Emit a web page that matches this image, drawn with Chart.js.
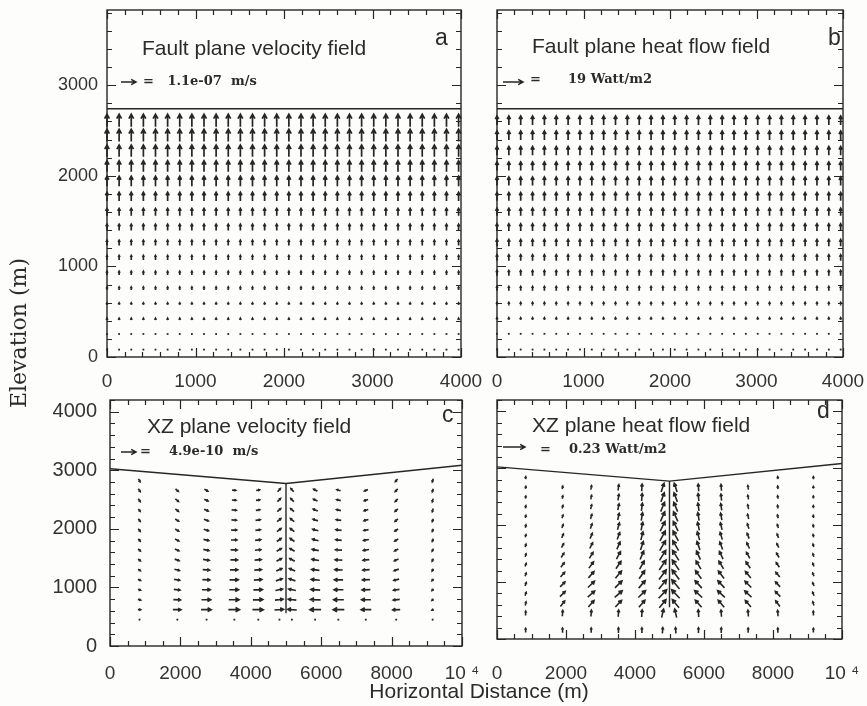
<!DOCTYPE html>
<html>
<head>
<meta charset="utf-8">
<script src="https://cdn.jsdelivr.net/npm/chart.js@4.4.1/dist/chart.umd.min.js"></script>
<style>
  html, body { margin: 0; padding: 0; background: #fdfdfc; }
  #page { position: relative; width: 867px; height: 706px; overflow: hidden; }
  #page canvas { position: absolute; }
  .txt { position: absolute; white-space: pre; color: #2b2b2b; line-height: 1; }
  .title { font-family: "Liberation Sans", Arial, sans-serif; font-size: 21px; }
  .key { font-family: "DejaVu Serif", serif; font-weight: bold; font-size: 13px; }
  .tag { font-family: "Liberation Sans", Arial, sans-serif; font-size: 23px; }
</style>
</head>
<body>
<div id="page">
  <canvas id="panelA" width="500" height="400" style="left:0;top:0"></canvas>
  <canvas id="panelB" width="397" height="400" style="left:470px;top:0"></canvas>
  <canvas id="panelC" width="500" height="316" style="left:0;top:390px"></canvas>
  <canvas id="panelD" width="397" height="316" style="left:470px;top:390px"></canvas>
</div>
<script>
// ---- fault plane (panels a, b) ----
const faultCols = [0, 137, 274, 411, 548, 685, 822, 959, 1096, 1233, 1370, 1507, 1644, 1781, 1918,
  2055, 2192, 2329, 2466, 2603, 2740, 2877, 3014, 3151, 3288, 3425, 3562, 3699, 3836, 3973];
const faultRows = [80, 250, 420, 585, 755, 925, 1095, 1260, 1430, 1600, 1770, 1940, 2105, 2275, 2445, 2610];
// upward velocity, 1e-7 m/s, one value per row (bottom to top)
const velocityA = [0.02, 0.05, 0.10, 0.16, 0.22, 0.27, 0.32, 0.38, 0.45, 0.53, 0.63, 0.72, 0.80, 0.86, 0.90, 0.93];
// upward heat flow, W/m2, one value per row (bottom to top)
const heatB = [0.4, 1.0, 2.0, 3.0, 4.0, 5.0, 5.7, 6.3, 6.8, 7.2, 7.6, 7.9, 8.1, 8.3, 8.5, 8.6];
const faultSurface = [[0, 2740], [4000, 2740]];
const faultXTicks = [0, 1000, 2000, 3000, 4000];
const faultYTicks = [0, 1000, 2000, 3000];

// ---- XZ plane (panels c, d) ----
const xzCols = [830, 1900, 2730, 3520, 4200, 4800, 5180, 5840, 6500, 7280, 8140, 9170];
const xzRows = [2830, 2660, 2490, 2320, 2150, 1980, 1810, 1640, 1470, 1300, 1130, 960, 790, 620, 450, 150];
const xzSurface = [[0, 3025], [5000, 2775], [10000, 3085]];
const xzFault = [[5000, 2775], [5000, 560]];
const xzXTicks = [0, 2000, 4000, 6000, 8000, 10000];
const xzYTicks = [0, 1000, 2000, 3000, 4000];

// velocity [u, v], 1e-10 m/s, rows top to bottom, null = no vector
const velXZ = [
  [[0.5,-0.9], null, null, null, null, null, null, null, null, null, [-0.7,-0.8], [-0.3,-1.0]],
  [[0.6,-0.9],[0.9,-0.8],[1.1,-0.6],[1.2,-0.1],[1.1,0.2],[0.9,1.0],[-0.9,1.0],[-1.2,0.6],[-1.2,0.3],[-1.1,-0.4],[-0.8,-0.8],[-0.3,-1.0]],
  [[0.6,-0.9],[1.0,-0.8],[1.2,-0.6],[1.3,-0.1],[1.2,0.2],[1.0,1.0],[-1.0,1.0],[-1.3,0.6],[-1.3,0.3],[-1.2,-0.4],[-0.8,-0.8],[-0.3,-1.0]],
  [[0.6,-0.8],[1.0,-0.8],[1.3,-0.6],[1.5,-0.1],[1.3,0.2],[1.1,1.0],[-1.1,1.0],[-1.5,0.6],[-1.4,0.3],[-1.3,-0.4],[-0.9,-0.8],[-0.3,-1.0]],
  [[0.6,-0.8],[1.1,-0.7],[1.4,-0.5],[1.6,-0.1],[1.5,0.2],[1.2,1.0],[-1.2,1.0],[-1.6,0.5],[-1.6,0.2],[-1.4,-0.4],[-0.9,-0.8],[-0.3,-0.9]],
  [[0.6,-0.8],[1.1,-0.7],[1.5,-0.5],[1.8,0.0],[1.6,0.2],[1.3,1.0],[-1.3,1.0],[-1.8,0.5],[-1.8,0.2],[-1.5,-0.3],[-1.0,-0.7],[-0.3,-0.9]],
  [[0.6,-0.7],[1.2,-0.6],[1.7,-0.4],[1.9,0.0],[1.8,0.2],[1.4,1.0],[-1.4,1.0],[-1.9,0.5],[-1.9,0.2],[-1.7,-0.3],[-1.1,-0.7],[-0.3,-0.9]],
  [[0.7,-0.7],[1.3,-0.6],[1.8,-0.4],[2.1,0.0],[1.9,0.2],[1.5,0.9],[-1.5,0.9],[-2.1,0.4],[-2.1,0.1],[-1.8,-0.3],[-1.2,-0.6],[-0.4,-0.8]],
  [[0.7,-0.6],[1.4,-0.5],[2.0,-0.3],[2.3,0.0],[2.1,0.2],[1.6,0.9],[-1.6,0.9],[-2.3,0.4],[-2.3,0.1],[-2.0,-0.2],[-1.3,-0.6],[-0.4,-0.8]],
  [[0.7,-0.5],[1.6,-0.4],[2.2,-0.2],[2.5,0.0],[2.3,0.2],[1.8,0.8],[-1.8,0.8],[-2.5,0.3],[-2.5,0.1],[-2.2,-0.2],[-1.5,-0.5],[-0.4,-0.7]],
  [[0.8,-0.4],[1.8,-0.3],[2.4,-0.1],[2.8,0.0],[2.6,0.2],[2.0,0.7],[-2.0,0.7],[-2.8,0.3],[-2.8,0.0],[-2.4,-0.1],[-1.7,-0.4],[-0.5,-0.6]],
  [[0.8,-0.3],[2.0,-0.2],[2.7,0.0],[3.0,0.0],[2.9,0.1],[2.3,0.5],[-2.3,0.5],[-3.0,0.2],[-3.0,0.0],[-2.7,-0.1],[-1.9,-0.3],[-0.5,-0.5]],
  [[0.9,-0.2],[2.3,-0.1],[3.0,0.0],[3.3,0.0],[3.2,0.1],[2.6,0.3],[-2.6,0.3],[-3.3,0.1],[-3.3,0.0],[-3.0,0.0],[-2.1,-0.2],[-0.5,-0.4]],
  [[0.9,0.0],[2.6,0.0],[3.3,0.0],[3.6,0.0],[3.5,0.0],[2.9,0.2],[-2.9,0.2],[-3.6,0.0],[-3.6,0.0],[-3.3,0.0],[-2.4,-0.1],[-0.5,-0.3]],
  [[0.2,0.0],[0.3,0.0],[0.3,0.0],[0.3,0.0],[0.3,0.0],[0.3,0.0],[-0.3,0.0],[-0.3,0.0],[-0.3,0.0],[-0.3,0.0],[-0.2,0.0],[-0.1,0.0]],
  [null, null, null, null, null, null, null, null, null, null, null, null]
];

// heat flow [u, v], 0.01 W/m2, rows top to bottom
const heatXZ = [
  [[0.3,2.5], null, null, null, null, null, null, null, null, null, [-0.3,2.5], [0.0,2.5]],
  [[0.4,2.5],[0.5,3.0],[0.8,4.0],[0.8,6.0],[0.5,7.5],[3.0,9.0],[-3.0,9.0],[-0.5,7.5],[-0.5,6.5],[-0.5,4.0],[-0.3,3.0],[0.0,2.5]],
  [[0.4,2.6],[0.6,3.0],[0.9,4.2],[1.0,6.3],[0.7,7.8],[3.5,9.5],[-3.5,9.5],[-0.8,7.8],[-0.7,6.8],[-0.7,4.2],[-0.4,3.0],[-0.1,2.6]],
  [[0.5,2.7],[0.8,3.2],[1.1,4.5],[1.3,6.6],[1.0,8.0],[4.0,9.8],[-4.0,9.8],[-1.1,8.0],[-1.0,7.0],[-0.9,4.5],[-0.6,3.2],[-0.2,2.7]],
  [[0.5,2.8],[1.0,3.4],[1.4,4.8],[1.6,6.9],[1.3,8.2],[4.5,10.0],[-4.5,10.0],[-1.4,8.2],[-1.3,7.2],[-1.2,4.8],[-0.8,3.4],[-0.3,2.8]],
  [[0.6,2.9],[1.3,3.6],[1.8,5.1],[2.0,7.2],[1.7,8.4],[5.0,10.2],[-5.0,10.2],[-1.8,8.4],[-1.7,7.4],[-1.6,5.1],[-1.1,3.6],[-0.4,2.9]],
  [[0.7,3.0],[1.7,3.9],[2.3,5.5],[2.6,7.4],[2.2,8.6],[5.5,10.4],[-5.5,10.4],[-2.4,8.6],[-2.2,7.6],[-2.1,5.5],[-1.5,3.9],[-0.5,3.0]],
  [[0.8,3.1],[2.2,4.2],[3.0,5.9],[3.3,7.6],[2.9,8.8],[6.0,10.5],[-6.0,10.5],[-3.1,8.8],[-2.9,7.8],[-2.7,5.9],[-2.0,4.2],[-0.7,3.1]],
  [[0.9,3.2],[2.8,4.5],[3.8,6.2],[4.2,7.8],[3.7,8.8],[6.5,10.5],[-6.5,10.5],[-4.0,8.8],[-3.8,8.0],[-3.5,6.3],[-2.6,4.5],[-0.9,3.2]],
  [[1.0,3.3],[3.5,4.8],[4.8,6.5],[5.2,7.8],[4.7,8.7],[7.0,10.3],[-7.0,10.3],[-5.0,8.7],[-4.8,8.0],[-4.5,6.6],[-3.3,4.8],[-1.1,3.3]],
  [[1.1,3.4],[4.3,5.0],[5.8,6.6],[6.3,7.6],[5.8,8.4],[7.5,10.0],[-7.5,10.0],[-6.1,8.4],[-5.9,7.8],[-5.6,6.7],[-4.1,5.0],[-1.3,3.4]],
  [[1.2,3.5],[5.0,5.2],[6.8,6.5],[7.3,7.2],[6.8,7.8],[8.0,9.5],[-8.0,9.5],[-7.1,7.8],[-6.9,7.4],[-6.6,6.6],[-4.8,5.2],[-1.5,3.5]],
  [[1.1,3.6],[5.4,5.4],[7.2,6.4],[7.8,6.8],[7.5,7.2],[8.3,8.8],[-8.3,8.8],[-7.8,7.2],[-7.5,7.0],[-7.0,6.4],[-5.2,5.4],[-1.5,3.6]],
  [[0.8,3.8],[4.5,5.8],[6.0,6.8],[6.5,7.0],[6.3,7.4],[7.0,8.5],[-7.0,8.5],[-6.6,7.4],[-6.3,7.2],[-5.9,6.8],[-4.4,5.8],[-1.1,3.8]],
  [[0.2,4.5],[0.5,6.0],[0.5,6.5],[0.5,7.0],[0.5,7.5],[2.0,9.0],[-2.0,9.0],[-0.5,7.5],[-0.5,7.0],[-0.5,6.5],[-0.4,6.0],[-0.2,4.5]],
  [[0.0,4.5],[0.0,5.0],[0.0,5.0],[0.0,5.5],[0.0,5.5],[0.5,6.0],[-0.5,6.0],[0.0,5.5],[0.0,5.5],[0.0,5.0],[0.0,5.0],[0.0,4.5]]
];

// reference arrows
const keyVelA = 1.1;   // 1e-7 m/s
const keyHeatB = 19;   // W/m2
const keyVelC = 4.9;   // 1e-10 m/s
const keyHeatD = 23;   // 0.01 W/m2

const panelTitles = ['Fault plane velocity field', 'Fault plane heat flow field',
  'XZ plane velocity field', 'XZ plane heat flow field'];
const panelTags = ['a', 'b', 'c', 'd'];

// ---- helpers ----
function columnVectors(cols, rows, rowVals) {
  const pts = [];
  rows.forEach((y, i) => cols.forEach(x => pts.push({ x: x, y: y, u: 0, v: rowVals[i] })));
  return pts;
}
function tableVectors(cols, rows, table) {
  const pts = [];
  rows.forEach((y, i) => cols.forEach((x, j) => {
    const c = table[i][j];
    if (c) pts.push({ x: x, y: y, u: c[0], v: c[1] });
  }));
  return pts;
}
const asPoints = arr => arr.map(p => ({ x: p[0], y: p[1] }));

const INK = '#262626';

function drawArrow(ctx, x0, y0, x1, y1) {
  const dx = x1 - x0, dy = y1 - y0, L = Math.hypot(dx, dy);
  if (L < 1.3) {
    ctx.fillRect(x1 - 0.9, y1 - 0.9, 1.8, 1.8);
    return;
  }
  const h = Math.min(5.5, Math.max(1.8, L * 0.4));
  const ang = Math.atan2(dy, dx), sp = 0.5;
  ctx.beginPath();
  ctx.moveTo(x0, y0);
  ctx.lineTo(x1, y1);
  ctx.moveTo(x1 - h * Math.cos(ang - sp), y1 - h * Math.sin(ang - sp));
  ctx.lineTo(x1, y1);
  ctx.lineTo(x1 - h * Math.cos(ang + sp), y1 - h * Math.sin(ang + sp));
  ctx.stroke();
}

// vectors centred on their grid node, scaled from the reference arrow
const quiverPlugin = {
  id: 'quiver',
  afterDatasetsDraw(chart, args, o) {
    const ctx = chart.ctx, area = chart.chartArea;
    const k = o.keyLen / o.keyValue;
    ctx.save();
    ctx.strokeStyle = INK;
    ctx.fillStyle = INK;
    ctx.lineWidth = o.width;
    chart.data.datasets.forEach((ds, di) => {
      if (!ds.quiver) return;
      const meta = chart.getDatasetMeta(di);
      meta.data.forEach((el, i) => {
        const p = ds.data[i];
        const dx = p.u * k, dy = -p.v * k;
        drawArrow(ctx, el.x - dx / 2, el.y - dy / 2, el.x + dx / 2, el.y + dy / 2);
      });
    });
    // reference arrow in the key
    ctx.lineWidth = 1.5;
    const kx = area.left + o.keyAt[0], ky = area.top + o.keyAt[1];
    drawArrow(ctx, kx, ky, kx + o.keyLen, ky);
    ctx.restore();
  }
};

// box with inward ticks on all four sides
const framePlugin = {
  id: 'frame',
  afterDraw(chart, args, o) {
    const { ctx, chartArea: a } = chart;
    const xs = chart.scales.x, ys = chart.scales.y;
    ctx.save();
    ctx.strokeStyle = INK;
    ctx.lineWidth = 1.4;
    ctx.strokeRect(a.left, a.top, a.width, a.height);
    ctx.lineWidth = 1.2;
    ctx.beginPath();
    for (let v = xs.min; v <= xs.max + 1e-6; v += o.xMinor) {
      const px = Math.round(xs.getPixelForValue(v)) + 0.5;
      const len = Math.abs(v / o.xMajor - Math.round(v / o.xMajor)) < 1e-6 ? 9 : 5;
      ctx.moveTo(px, a.bottom); ctx.lineTo(px, a.bottom - len);
      ctx.moveTo(px, a.top); ctx.lineTo(px, a.top + len);
    }
    for (let v = ys.min; v <= ys.max + 1e-6; v += o.yMinor) {
      const py = Math.round(ys.getPixelForValue(v)) + 0.5;
      const len = Math.abs(v / o.yMajor - Math.round(v / o.yMajor)) < 1e-6 ? 9 : 5;
      ctx.moveTo(a.left, py); ctx.lineTo(a.left + len, py);
      ctx.moveTo(a.right, py); ctx.lineTo(a.right - len, py);
    }
    ctx.stroke();
    ctx.restore();
  }
};

function makePanel(id, cfg) {
  const datasets = [
    {
      data: asPoints(cfg.surface), showLine: true, pointRadius: 0,
      borderColor: INK, borderWidth: 1.4, tension: 0
    },
    { data: cfg.vectors, quiver: true, pointRadius: 0 }
  ];
  if (cfg.fault) {
    datasets.push({
      data: asPoints(cfg.fault), showLine: true, pointRadius: 0,
      borderColor: INK, borderWidth: 1.4
    });
  }
  return new Chart(document.getElementById(id), {
    type: 'scatter',
    data: { datasets: datasets },
    options: {
      responsive: false,
      animation: false,
      events: [],
      layout: { autoPadding: false, padding: { top: cfg.pad[0], right: cfg.pad[1], bottom: 0, left: 0 } },
      plugins: {
        legend: { display: false },
        tooltip: { enabled: false },
        quiver: { keyValue: cfg.keyValue, keyLen: cfg.keyLen, keyAt: cfg.keyAt, width: cfg.arrowWidth },
        frame: cfg.ticks
      },
      scales: {
        x: {
          type: 'linear', min: 0, max: cfg.xMax,
          grid: { display: false }, border: { display: false },
          afterBuildTicks: s => { s.ticks = cfg.xTicks.map(v => ({ value: v })); },
          ticks: {
            autoSkip: false, maxRotation: 0,
            padding: cfg.xPad, color: '#333', font: { family: 'Liberation Sans', size: 19 },
            callback: v => (v === 10000 ? '10 \u2074' : String(v))
          },
          afterFit: s => { s.height = cfg.xHeight; s.paddingLeft = 0; s.paddingRight = 0; }
        },
        y: {
          type: 'linear', min: 0, max: cfg.yMax,
          grid: { display: false }, border: { display: false },
          afterBuildTicks: s => { s.ticks = cfg.yTicks.map(v => ({ value: v })); },
          ticks: {
            display: cfg.yLabels, autoSkip: false,
            padding: cfg.yPad, color: '#333', font: { family: 'Liberation Sans', size: cfg.yFont },
            callback: v => String(v)
          },
          afterFit: s => { s.width = cfg.yWidth; s.paddingTop = 0; s.paddingBottom = 0; }
        }
      }
    },
    plugins: [quiverPlugin, framePlugin]
  });
}

makePanel('panelA', {
  surface: faultSurface, vectors: columnVectors(faultCols, faultRows, velocityA),
  keyValue: keyVelA, keyLen: 15, keyAt: [14, 72], arrowWidth: 1.7,
  xMax: 4000, yMax: 3830, xTicks: faultXTicks, yTicks: faultYTicks, xPad: 5, xHeight: 43,
  yLabels: true, yPad: 1, yFont: 18, yWidth: 107, pad: [10, 39],
  ticks: { xMinor: 200, xMajor: 1000, yMinor: 200, yMajor: 1000 }
});
makePanel('panelB', {
  surface: faultSurface, vectors: columnVectors(faultCols, faultRows, heatB),
  keyValue: keyHeatB, keyLen: 20, keyAt: [6, 72], arrowWidth: 1.7,
  xMax: 4000, yMax: 3830, xTicks: faultXTicks, yTicks: faultYTicks, xPad: 5, xHeight: 43,
  yLabels: false, yPad: 1, yFont: 18, yWidth: 27, pad: [10, 24],
  ticks: { xMinor: 200, xMajor: 1000, yMinor: 200, yMajor: 1000 }
});
makePanel('panelC', {
  surface: xzSurface, fault: xzFault, vectors: tableVectors(xzCols, xzRows, velXZ),
  keyValue: keyVelC, keyLen: 15, keyAt: [11, 52], arrowWidth: 1.7,
  xMax: 10000, yMax: 4200, xTicks: xzXTicks, yTicks: xzYTicks, xPad: 8, xHeight: 60,
  yLabels: true, yPad: 5, yFont: 20, yWidth: 110, pad: [10, 38],
  ticks: { xMinor: 500, xMajor: 2000, yMinor: 200, yMajor: 1000 }
});
makePanel('panelD', {
  surface: xzSurface, fault: xzFault, vectors: tableVectors(xzCols, xzRows, heatXZ),
  keyValue: keyHeatD, keyLen: 22, keyAt: [6, 47], arrowWidth: 1.6,
  xMax: 10000, yMax: 4200, xTicks: xzXTicks, yTicks: xzYTicks, xPad: 15, xHeight: 67,
  yLabels: false, yPad: 1, yFont: 20, yWidth: 27, pad: [10, 25],
  ticks: { xMinor: 500, xMajor: 2000, yMinor: 200, yMajor: 1000 }
});

// ---- text overlays ----
const page = document.getElementById('page');
function addText(cls, text, left, top, extra) {
  const d = document.createElement('div');
  d.className = 'txt ' + cls;
  d.textContent = text;
  d.style.left = left + 'px';
  d.style.top = top + 'px';
  if (extra) Object.assign(d.style, extra);
  page.appendChild(d);
}
addText('title', panelTitles[0], 142, 37);
addText('title', panelTitles[1], 532, 35);
addText('title', panelTitles[2], 147, 415);
addText('title', panelTitles[3], 532, 414);
addText('tag', panelTags[0], 435, 26);
addText('tag', panelTags[1], 828, 26);
addText('tag', panelTags[2], 442, 403);
addText('tag', panelTags[3], 817, 399);
addText('key', '=   ' + keyVelA.toFixed(1) + 'e-07  m/s', 143, 74);
addText('key', '=      ' + keyHeatB + ' Watt/m2', 530, 72);
addText('key', '=    ' + keyVelC.toFixed(1) + 'e-10  m/s', 140, 444);
addText('key', '=    ' + (keyHeatD / 100).toFixed(2) + ' Watt/m2', 540, 442);
addText('', 'Elevation (m)', 19, 333, {
  fontFamily: '"DejaVu Serif", serif', fontSize: '22px',
  transform: 'translate(-50%, -50%) rotate(-90deg)'
});
addText('', 'Horizontal Distance (m)', 479, 680, {
  fontFamily: '"Liberation Sans", Arial, sans-serif', fontSize: '21px',
  transform: 'translateX(-50%)'
});
</script>
</body>
</html>
